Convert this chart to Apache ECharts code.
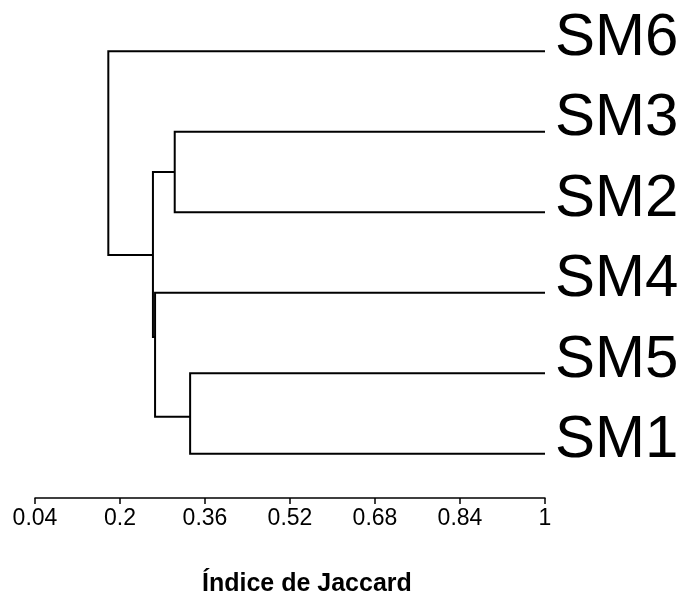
<!DOCTYPE html>
<html>
<head>
<meta charset="utf-8">
<script src="https://cdn.jsdelivr.net/npm/echarts@6/dist/echarts.min.js"></script>
<style>
  html, body { margin: 0; padding: 0; background: #ffffff; }
  #chart { width: 686px; height: 597px; }
</style>
</head>
<body>
<div id="chart"></div>
<script>
// Leaves in drawing order (row 0 at the top) and their similarity level
const leafLabels = ['SM6', 'SM3', 'SM2', 'SM4', 'SM5', 'SM1'];
const leafLevel = 1;

// Cluster joins: children, Jaccard level of the join, row where the parent attaches
const joinNames  = ['A', 'B', 'C', 'D', 'E'];
const joinLeft   = ['SM3', 'SM5', 'SM4', 'A', 'SM6'];
const joinRight  = ['SM2', 'SM1', 'B', 'C', 'D'];
const joinLevel  = [0.303, 0.332, 0.266, 0.262, 0.178];
const joinRow    = [1.5, 4.54, 3.55, 2.53, 1.27];

// Axis ticks
const tickValues = [0.04, 0.2, 0.36, 0.52, 0.68, 0.84, 1];
const tickLabels = ['0.04', '0.2', '0.36', '0.52', '0.68', '0.84', '1'];
const axisTitle = 'Índice de Jaccard';

function nodeLevel(name) {
  const j = joinNames.indexOf(name);
  return j >= 0 ? joinLevel[j] : leafLevel;
}
function nodeRow(name) {
  const j = joinNames.indexOf(name);
  return j >= 0 ? joinRow[j] : leafLabels.indexOf(name);
}

// One item per join: [level, leftRow, rightRow, leftLevel, rightLevel]
const linkData = joinNames.map((n, i) => [
  joinLevel[i],
  nodeRow(joinLeft[i]),
  nodeRow(joinRight[i]),
  nodeLevel(joinLeft[i]),
  nodeLevel(joinRight[i])
]);

const leafData = leafLabels.map((name, i) => [leafLevel, i]);

const chart = echarts.init(document.getElementById('chart'), null, { renderer: 'canvas' });

chart.setOption({
  backgroundColor: '#ffffff',
  animation: false,
  title: {
    text: axisTitle,
    left: 197,
    top: 567,
    textStyle: {
      fontFamily: 'Liberation Sans',
      fontWeight: 'bold',
      fontSize: 25,
      color: '#000000'
    }
  },
  grid: {
    left: 35,
    right: 141,
    top: 11,
    bottom: 99,
    outerBoundsMode: 'none'
  },
  xAxis: {
    type: 'value',
    position: 'bottom',
    min: 0.04,
    max: 1,
    axisLine: { show: true, onZero: false, lineStyle: { color: '#000000', width: 1.5 } },
    axisTick: {
      show: true,
      length: 6,
      customValues: tickValues,
      lineStyle: { color: '#000000', width: 1.5 }
    },
    axisLabel: {
      customValues: tickValues,
      formatter: (v) => {
        const k = tickValues.findIndex(t => Math.abs(t - v) < 1e-9);
        return k >= 0 ? tickLabels[k] : '';
      },
      margin: 9,
      fontFamily: 'Liberation Sans',
      fontSize: 23,
      color: '#000000'
    },
    splitLine: { show: false }
  },
  yAxis: {
    type: 'value',
    inverse: true,
    min: -0.5,
    max: 5.55,
    show: false
  },
  series: [
    {
      type: 'custom',
      clip: false,
      data: linkData,
      renderItem: (params, api) => {
        const lvl = api.value(0);
        const rL = api.value(1), rR = api.value(2);
        const lL = api.value(3), lR = api.value(4);
        const p1 = api.coord([lL, rL]);
        const p2 = api.coord([lvl, rL]);
        const p3 = api.coord([lvl, rR]);
        const p4 = api.coord([lR, rR]);
        return {
          type: 'polyline',
          shape: { points: [p1, p2, p3, p4] },
          style: { stroke: '#000000', lineWidth: 2, fill: null }
        };
      }
    },
    {
      // leaf names, written just right of each leaf's end
      type: 'custom',
      clip: false,
      data: leafData,
      renderItem: (params, api) => {
        const p = api.coord([api.value(0), api.value(1)]);
        return {
          type: 'text',
          x: p[0] + 10,
          y: p[1] - 13,
          style: {
            text: leafLabels[params.dataIndex],
            fill: '#000000',
            font: '60px "Liberation Sans"',
            align: 'left',
            verticalAlign: 'middle'
          }
        };
      }
    }
  ]
});
</script>
</body>
</html>
